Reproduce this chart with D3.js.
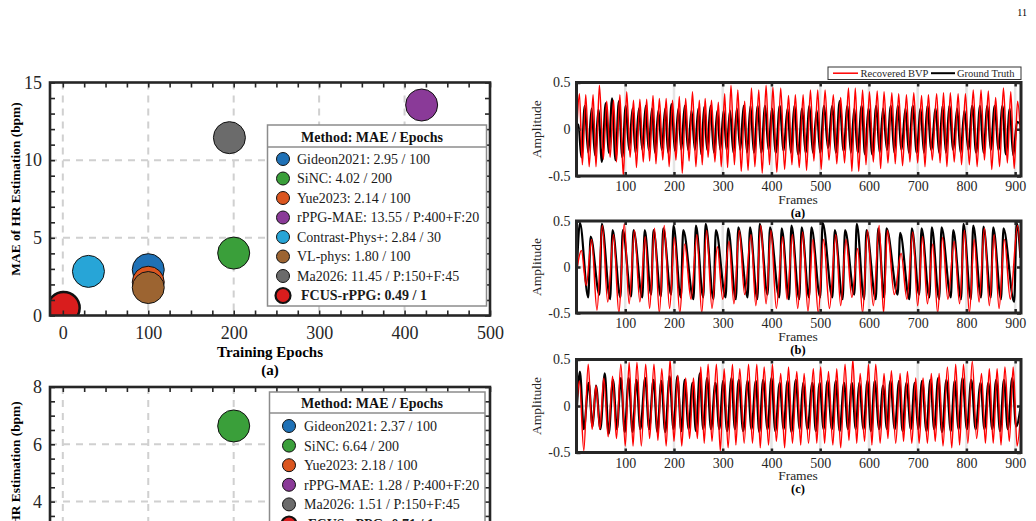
<!DOCTYPE html>
<html>
<head>
<meta charset="utf-8">
<script src="https://cdn.jsdelivr.net/npm/d3@7"></script>
<style>
  body { margin: 0; background: #fff; }
  svg { display: block; font-family: "Liberation Serif", "Times New Roman", serif; }
</style>
</head>
<body>
<svg width="1036" height="521"></svg>
<script>
// ---- scatter (a): MAE vs training epochs ----
const methodsA = ['Gideon2021', 'SiNC', 'Yue2023', 'rPPG-MAE', 'Contrast-Phys+', 'VL-phys', 'Ma2026', 'FCUS-rPPG'];
const maeA = [2.95, 4.02, 2.14, 13.55, 2.84, 1.80, 11.45, 0.49];
const epochsA = [100, 200, 100, 420, 30, 100, 195, 1];
const epochTextA = ['100', '200', '100', 'P:400+F:20', '30', '100', 'P:150+F:45', '1'];
const colorsA = ['#1f71b6', '#3a9f3a', '#db5620', '#8a3a98', '#27a5d7', '#9c6431', '#6b6b6b', '#d91d1d'];

// ---- scatter (b) ----
const methodsB = ['Gideon2021', 'SiNC', 'Yue2023', 'rPPG-MAE', 'Ma2026', 'FCUS-rPPG'];
const maeB = [2.37, 6.64, 2.18, 1.28, 1.51, 0.71];
const epochsB = [100, 200, 100, 420, 195, 1];
const epochTextB = ['100', '200', '100', 'P:400+F:20', 'P:150+F:45', '1'];
const colorsB = ['#1f71b6', '#3a9f3a', '#db5620', '#8a3a98', '#6b6b6b', '#d91d1d'];

// ---- BVP waveforms: extrema, [frame, amplitude] ----
const recPeaksA = [[6,.38],[19,.37],[34,.37],[47,.47],[62,.30],[76,.31],[89,.37],[103,.40],[117,.31],[130,.32],[144,.32],[157,.36],[170,.33],[184,.33],[197,.31],[211,.35],[224,.33],[238,.40],[252,.31],[264,.33],[277,.31],[291,.29],[304,.38],[317,.47],[331,.42],[345,.30],[359,.44],[374,.42],[389,.47],[403,.45],[419,.44],[435,.36],[449,.37],[465,.37],[480,.42],[495,.42],[510,.42],[527,.37],[542,.34],[558,.44],[572,.44],[587,.42],[601,.40],[617,.41],[631,.40],[647,.39],[661,.38],[677,.37],[692,.39],[708,.36],[722,.37],[739,.38],[753,.39],[767,.39],[783,.38],[798,.38],[814,.42],[830,.42],[845,.41],[860,.34],[876,.44],[891,.40],[905,.30]];
const recTroughsA = [[1,.05],[12,-.38],[26,-.40],[40,-.40],[55,-.32],[69,-.30],[82,-.35],[96,-.50],[110,-.30],[123,-.41],[137,-.35],[150,-.34],[163,-.37],[177,-.33],[190,-.40],[204,-.33],[217,-.47],[231,-.34],[245,-.40],[258,-.38],[270,-.30],[284,-.35],[297,-.40],[310,-.41],[324,-.38],[338,-.45],[352,-.44],[366,-.40],[381,-.47],[396,-.38],[411,-.46],[427,-.43],[442,-.38],[457,-.41],[472,-.44],[487,-.34],[502,-.43],[518,-.33],[534,-.37],[550,-.36],[565,-.45],[579,-.45],[594,-.38],[609,-.35],[624,-.42],[639,-.36],[654,-.37],[669,-.39],[684,-.35],[700,-.36],[715,-.40],[730,-.33],[746,-.36],[760,-.40],[775,-.35],[790,-.38],[806,-.38],[822,-.40],[837,-.33],[852,-.43],[868,-.40],[884,-.36],[898,-.42],[911,-.05]];
const gtPeaksA = [[4,.05],[17,.25],[31,.22],[45,.21],[60,.28],[73,.33],[87,.30],[101,.25],[115,.22],[128,.22],[142,.25],[155,.22],[168,.20],[182,.22],[195,.27],[209,.22],[222,.25],[236,.20],[250,.22],[262,.24],[275,.25],[289,.20],[302,.20],[315,.20],[329,.22],[343,.25],[357,.25],[372,.25],[387,.25],[401,.22],[417,.25],[433,.22],[447,.25],[463,.22],[478,.25],[493,.20],[508,.25],[525,.25],[540,.30],[556,.25],[570,.22],[585,.25],[599,.22],[615,.25],[629,.22],[645,.25],[659,.25],[675,.22],[690,.25],[706,.22],[720,.25],[737,.22],[751,.25],[765,.25],[781,.22],[796,.20],[812,.25],[828,.25],[843,.25],[858,.25],[874,.25],[889,.22],[904,.08]];
const gtTroughsA = [[1,0],[10,-.30],[24,-.25],[38,-.28],[52,-.35],[66,-.25],[80,-.33],[94,-.30],[108,-.22],[121,-.25],[135,-.22],[148,-.22],[161,-.25],[175,-.22],[188,-.25],[202,-.23],[215,-.22],[229,-.22],[243,-.22],[256,-.27],[268,-.22],[282,-.25],[295,-.22],[308,-.22],[322,-.25],[336,-.22],[350,-.25],[364,-.25],[379,-.25],[394,-.22],[409,-.25],[425,-.23],[440,-.25],[455,-.27],[470,-.25],[485,-.25],[500,-.25],[516,-.20],[532,-.25],[548,-.23],[563,-.25],[577,-.25],[592,-.27],[607,-.27],[622,-.25],[637,-.22],[652,-.25],[667,-.22],[682,-.25],[698,-.25],[713,-.25],[728,-.22],[744,-.25],[758,-.25],[773,-.22],[788,-.25],[804,-.22],[820,-.25],[835,-.25],[850,-.22],[866,-.22],[881,-.27],[896,-.28],[911,.05]];

const recPeaksB = [[10,.18],[31,.30],[53,.45],[76,.35],[98,.47],[119,.40],[141,.33],[160,.42],[180,.45],[201,.32],[222,.25],[247,.35],[267,.40],[289,.22],[313,.28],[334,.40],[358,.35],[378,.45],[399,.40],[423,.33],[443,.35],[464,.38],[485,.30],[507,.30],[532,.35],[553,.30],[577,.20],[597,.40],[621,.45],[638,.40],[666,.15],[690,.38],[710,.33],[731,.25],[751,.32],[775,.28],[796,.40],[816,.30],[837,.42],[857,.35],[878,.30],[905,.45]];
const recTroughsB = [[1,-.02],[20,-.20],[42,-.47],[64,-.38],[87,-.50],[108,-.40],[130,-.38],[150,-.45],[170,-.50],[191,-.45],[212,-.50],[235,-.35],[257,-.50],[278,-.45],[300,-.35],[323,-.40],[345,-.30],[368,-.42],[389,-.40],[410,-.45],[432,-.35],[454,-.45],[475,-.48],[496,-.50],[519,-.45],[542,-.42],[565,-.33],[587,-.50],[609,-.42],[630,-.50],[652,-.30],[678,-.35],[700,-.42],[720,-.40],[741,-.50],[762,-.35],[786,-.40],[806,-.50],[826,-.38],[847,-.42],[867,-.45],[890,-.35],[912,.05]];
const gtPeaksB = [[7,.48],[29,.33],[52,.47],[74,.40],[95,.40],[117,.40],[140,.40],[158,.40],[178,.42],[199,.45],[219,.40],[245,.45],[265,.47],[286,.40],[311,.42],[332,.43],[356,.43],[376,.47],[397,.43],[421,.42],[441,.45],[462,.43],[482,.43],[505,.48],[530,.40],[551,.40],[575,.47],[595,.40],[619,.42],[636,.42],[664,.37],[688,.42],[708,.42],[729,.43],[749,.43],[773,.40],[794,.47],[814,.45],[835,.44],[855,.43],[876,.42],[903,.48]];
const gtTroughsB = [[1,0],[24,-.33],[47,-.30],[69,-.35],[90,-.33],[112,-.32],[135,-.33],[153,-.30],[173,-.32],[194,-.30],[214,-.33],[240,-.35],[260,-.33],[281,-.35],[306,-.33],[327,-.35],[351,-.33],[371,-.35],[392,-.30],[416,-.33],[436,-.35],[457,-.35],[477,-.33],[500,-.33],[525,-.33],[546,-.35],[570,-.30],[590,-.35],[614,-.35],[631,-.33],[659,-.30],[683,-.35],[703,-.30],[724,-.33],[744,-.35],[768,-.33],[789,-.35],[809,-.35],[830,-.33],[850,-.33],[871,-.35],[898,-.38],[911,.10]];

const recPeaksC = [[6,.27],[24,.45],[40,.22],[56,.30],[74,.32],[91,.45],[108,.47],[124,.47],[142,.45],[159,.45],[175,.40],[192,.50],[208,.33],[224,.30],[240,.30],[255,.42],[270,.45],[287,.45],[303,.40],[320,.45],[335,.40],[353,.45],[370,.45],[385,.42],[402,.45],[419,.35],[435,.42],[452,.37],[467,.35],[486,.40],[501,.42],[517,.37],[534,.40],[551,.45],[567,.50],[582,.35],[599,.45],[614,.45],[631,.35],[646,.38],[664,.35],[679,.37],[696,.30],[711,.30],[728,.35],[744,.35],[761,.42],[778,.45],[794,.45],[812,.48],[831,.35],[847,.40],[863,.40],[879,.42],[896,.42]];
const recTroughsC = [[1,.05],[15,-.48],[32,-.25],[48,-.25],[65,-.33],[82,-.35],[100,-.43],[116,-.43],[133,-.43],[150,-.35],[167,-.37],[184,-.43],[200,-.38],[216,-.43],[232,-.35],[248,-.35],[262,-.40],[278,-.38],[295,-.48],[311,-.45],[327,-.42],[344,-.40],[361,-.40],[377,-.45],[394,-.42],[410,-.38],[427,-.45],[443,-.40],[460,-.42],[476,-.40],[493,-.40],[509,-.40],[526,-.42],[542,-.45],[559,-.37],[575,-.40],[591,-.38],[606,-.42],[623,-.40],[639,-.35],[655,-.40],[671,-.38],[688,-.40],[703,-.40],[720,-.40],[736,-.38],[752,-.43],[770,-.45],[786,-.42],[803,-.40],[821,-.35],[839,-.40],[855,-.40],[871,-.42],[888,-.38],[904,-.43],[912,-.02]];
const gtPeaksC = [[7,.37],[25,.25],[40,.22],[58,.35],[75,.28],[91,.30],[107,.30],[123,.28],[141,.30],[158,.28],[174,.27],[191,.32],[207,.32],[222,.28],[238,.25],[253,.35],[268,.30],[285,.25],[301,.27],[318,.30],[333,.28],[351,.27],[368,.27],[383,.28],[400,.30],[417,.25],[433,.27],[450,.28],[465,.25],[484,.25],[499,.25],[515,.27],[532,.27],[549,.25],[565,.25],[580,.25],[597,.27],[612,.27],[629,.22],[644,.27],[662,.27],[677,.25],[694,.25],[709,.27],[726,.28],[742,.30],[759,.28],[776,.27],[792,.30],[810,.28],[829,.25],[845,.25],[861,.28],[877,.28],[894,.30]];
const gtTroughsC = [[1,0],[15,-.25],[33,-.22],[49,-.25],[66,-.30],[83,-.25],[99,-.28],[115,-.28],[131,-.25],[149,-.25],[166,-.28],[182,-.28],[199,-.25],[215,-.27],[230,-.25],[245,-.27],[260,-.25],[276,-.25],[293,-.25],[309,-.27],[325,-.25],[342,-.27],[359,-.25],[375,-.28],[392,-.25],[408,-.27],[425,-.25],[441,-.28],[458,-.25],[474,-.25],[491,-.27],[507,-.25],[524,-.25],[540,-.27],[557,-.25],[573,-.25],[589,-.25],[604,-.27],[621,-.25],[637,-.25],[653,-.25],[669,-.27],[686,-.25],[701,-.25],[718,-.27],[734,-.25],[750,-.28],[768,-.27],[784,-.25],[801,-.25],[819,-.25],[837,-.25],[853,-.25],[869,-.27],[885,-.25],[902,-.22],[911,-.02]];

const frameTicks = [100, 200, 300, 400, 500, 600, 700, 800, 900];
const ampTicks = [-0.5, 0, 0.5];

const svg = d3.select('svg');
const INK = '#262626';
const H = 521;

function styleAxis(sel, size) {
  sel.select('.domain').remove();
  sel.selectAll('.tick line').attr('stroke', INK);
  sel.selectAll('.tick text')
    .attr('font-family', '"Liberation Serif", "Times New Roman", serif')
    .attr('font-size', size).attr('fill', INK);
}

// ---------------- scatter plots ----------------
function scatter(o) {
  const g = svg.append('g');
  const x = d3.scaleLinear().domain([-15, 500]).range([50, 490]);
  const y = d3.scaleLinear().domain(o.yDomain).range([o.bottom, o.top]);

  svg.append('clipPath').attr('id', 'clip-' + o.id).append('rect')
    .attr('x', x.range()[0]).attr('y', o.top)
    .attr('width', x.range()[1] - x.range()[0]).attr('height', o.bottom - o.top);

  // dashed grid
  g.append('g').selectAll('line').data([0, 100, 200, 300, 400]).join('line')
    .attr('x1', d => x(d)).attr('x2', d => x(d)).attr('y1', o.top).attr('y2', o.bottom)
    .attr('stroke', '#d0d0d0').attr('stroke-width', 2).attr('stroke-dasharray', '7,6');
  g.append('g').selectAll('line').data(o.gridY).join('line')
    .attr('x1', 50).attr('x2', 490).attr('y1', d => y(d)).attr('y2', d => y(d))
    .attr('stroke', '#d0d0d0').attr('stroke-width', 2).attr('stroke-dasharray', '7,6');

  // bubbles
  const pts = o.methods.map((m, i) => ({ m, mae: o.mae[i], ep: o.epochs[i], c: o.colors[i], last: i === o.methods.length - 1 }));
  g.append('g').attr('clip-path', `url(#clip-${o.id})`)
    .selectAll('circle').data(pts).join('circle')
    .attr('cx', d => x(d.ep)).attr('cy', d => y(d.mae)).attr('r', 16)
    .attr('fill', d => d.c).attr('stroke', '#111').attr('stroke-width', d => d.last ? 2.5 : 1);

  // ticks on all four sides, pointing inward (labels only where they fall on the page)
  const xt = d3.range(0, 501, 25);
  const showX = o.bottom < H;
  g.append('g').attr('transform', `translate(0,${o.bottom})`)
    .call(d3.axisBottom(x).tickValues(xt).tickSize(-5).tickPadding(11)
      .tickFormat(d => (d % 100 || !showX) ? '' : d))
    .call(s => styleAxis(s, 18));
  g.append('g').attr('transform', `translate(0,${o.top})`)
    .call(d3.axisTop(x).tickValues(xt).tickSize(-5).tickFormat(''))
    .call(s => styleAxis(s, 18));
  g.append('g').attr('transform', 'translate(50,0)')
    .call(d3.axisLeft(y).tickValues(o.yTicks).tickSize(-5).tickPadding(8)
      .tickFormat(d => (o.yLabels.includes(d) && y(d) < H) ? d : ''))
    .call(s => styleAxis(s, 18));
  g.append('g').attr('transform', 'translate(490,0)')
    .call(d3.axisRight(y).tickValues(o.yTicks).tickSize(-5).tickFormat(''))
    .call(s => styleAxis(s, 18));
  g.selectAll('.tick line').attr('stroke-width', 1.6);

  g.append('rect').attr('x', 50).attr('y', o.top).attr('width', 440).attr('height', o.bottom - o.top)
    .attr('fill', 'none').attr('stroke', INK).attr('stroke-width', 2.6);

  // axis titles
  g.append('text').attr('transform', `translate(20,${o.yTitleY}) rotate(-90)`)
    .attr('text-anchor', 'middle').attr('font-weight', 'bold').attr('font-size', 13.4)
    .text('MAE of HR Estimation (bpm)');
  if (o.xTitleY) {
    g.append('text').attr('x', 270).attr('y', o.xTitleY).attr('text-anchor', 'middle')
      .attr('font-weight', 'bold').attr('font-size', 15).text('Training Epochs');
    g.append('text').attr('x', 270).attr('y', o.xTitleY + 18).attr('text-anchor', 'middle')
      .attr('font-weight', 'bold').attr('font-size', 15).text(o.tag);
  }

  // legend
  const L = o.legend;
  const lg = g.append('g');
  lg.append('rect').attr('x', L.x0).attr('y', L.top).attr('width', L.x1 - L.x0).attr('height', L.bottom - L.top)
    .attr('fill', '#fff').attr('stroke', '#8c8c8c').attr('stroke-width', 1.5);
  lg.append('line').attr('x1', L.x0).attr('x2', L.x1).attr('y1', L.sep).attr('y2', L.sep)
    .attr('stroke', '#8c8c8c').attr('stroke-width', 1.5);
  lg.append('text').attr('x', L.hx).attr('y', L.hy).attr('text-anchor', 'middle')
    .attr('font-weight', 'bold').attr('font-size', 14).attr('fill', '#111').text('Method: MAE / Epochs');
  const items = lg.selectAll('g.item').data(pts).join('g').attr('class', 'item')
    .attr('transform', (d, i) => `translate(0,${L.y0 + i * L.step})`);
  items.append('circle').attr('cx', L.mx).attr('r', d => d.last ? 7.5 : 6.5)
    .attr('fill', d => d.c).attr('stroke', '#111').attr('stroke-width', d => d.last ? 2.2 : 1);
  items.append('text').attr('x', d => d.last ? L.tx + 4 : L.tx).attr('dy', '0.35em')
    .attr('font-size', 14).attr('fill', '#1a1a1a').attr('font-weight', d => d.last ? 'bold' : 'normal')
    .text((d, i) => `${d.m}: ${d.mae.toFixed(2)} / ${o.epochText[i]}`);
}

scatter({
  id: 'a', top: 82.5, bottom: 315.5, yDomain: [0, 15],
  yTicks: d3.range(0, 16, 1), yLabels: [0, 5, 10, 15], gridY: [5, 10],
  methods: methodsA, mae: maeA, epochs: epochsA, epochText: epochTextA, colors: colorsA,
  yTitleY: 189, xTitleY: 357, tag: '(a)',
  legend: { x0: 267.5, x1: 486.5, top: 125, sep: 147, bottom: 306, hx: 372, hy: 141.5,
            y0: 159, step: 19.5, mx: 283, tx: 297 }
});
scatter({
  id: 'b', top: 387, bottom: 616.2, yDomain: [0, 8],
  yTicks: d3.range(0, 8.01, 0.5), yLabels: [0, 2, 4, 6, 8], gridY: [2, 4, 6],
  methods: methodsB, mae: maeB, epochs: epochsB, epochText: epochTextB, colors: colorsB,
  yTitleY: 488,
  legend: { x0: 269.5, x1: 485, top: 392, sep: 413, bottom: 560, hx: 372, hy: 407.5,
            y0: 426, step: 19.6, mx: 289, tx: 304 }
});

// ---------------- BVP waveform panels ----------------
const fx = d3.scaleLinear().domain([0, 912]).range([576.5, 1021]);
const merge = (a, b) => a.concat(b).sort((p, q) => p[0] - q[0]);
const panels = [
  { id: 'wa', top: 82.5, bottom: 176, tag: '(a)', rec: merge(recPeaksA, recTroughsA), gt: merge(gtPeaksA, gtTroughsA) },
  { id: 'wb', top: 221, bottom: 313, tag: '(b)', rec: merge(recPeaksB, recTroughsB), gt: merge(gtPeaksB, gtTroughsB) },
  { id: 'wc', top: 359.5, bottom: 452.5, tag: '(c)', rec: merge(recPeaksC, recTroughsC), gt: merge(gtPeaksC, gtTroughsC) }
];

panels.forEach(p => {
  const g = svg.append('g');
  const y = d3.scaleLinear().domain([-0.5, 0.5]).range([p.bottom, p.top]);
  const [x0, x1] = fx.range();

  svg.append('clipPath').attr('id', 'clip-' + p.id).append('rect')
    .attr('x', x0).attr('y', p.top).attr('width', x1 - x0).attr('height', p.bottom - p.top);

  g.append('g').selectAll('line').data(frameTicks).join('line')
    .attr('x1', d => fx(d)).attr('x2', d => fx(d)).attr('y1', p.top).attr('y2', p.bottom)
    .attr('stroke', '#e4e4e4').attr('stroke-width', 2.5);
  g.append('line').attr('x1', x0).attr('x2', x1).attr('y1', y(0)).attr('y2', y(0))
    .attr('stroke', '#e4e4e4').attr('stroke-width', 2.5);

  const line = d3.line().x(d => fx(d[0])).y(d => y(d[1])).curve(d3.curveMonotoneX);
  const lines = g.append('g').attr('clip-path', `url(#clip-${p.id})`);
  lines.append('path').attr('d', line(p.gt)).attr('fill', 'none').attr('stroke', '#000').attr('stroke-width', 2.2);
  lines.append('path').attr('d', line(p.rec)).attr('fill', 'none').attr('stroke', '#ff0000').attr('stroke-width', 1.5);

  g.append('g').attr('transform', `translate(0,${p.bottom})`)
    .call(d3.axisBottom(fx).tickValues(frameTicks).tickSize(-4).tickPadding(5.5))
    .call(s => styleAxis(s, 14));
  g.append('g').attr('transform', `translate(0,${p.top})`)
    .call(d3.axisTop(fx).tickValues(frameTicks).tickSize(-4).tickFormat(''))
    .call(s => styleAxis(s, 14));
  g.append('g').attr('transform', `translate(${x0},0)`)
    .call(d3.axisLeft(y).tickValues(ampTicks).tickSize(-4).tickPadding(6).tickFormat(d => String(d)))
    .call(s => styleAxis(s, 14));
  g.append('g').attr('transform', `translate(${x1},0)`)
    .call(d3.axisRight(y).tickValues(ampTicks).tickSize(-4).tickFormat(''))
    .call(s => styleAxis(s, 14));
  g.selectAll('.tick line').attr('stroke-width', 2.5);

  g.append('rect').attr('x', x0).attr('y', p.top).attr('width', x1 - x0).attr('height', p.bottom - p.top)
    .attr('fill', 'none').attr('stroke', INK).attr('stroke-width', 3);

  g.append('text').attr('transform', `translate(541,${(p.top + p.bottom) / 2}) rotate(-90)`)
    .attr('text-anchor', 'middle').attr('font-size', 13.5).attr('fill', INK).text('Amplitude');
  g.append('text').attr('x', 798).attr('y', p.bottom + 27.5).attr('text-anchor', 'middle')
    .attr('font-size', 13.5).attr('fill', INK).text('Frames');
  g.append('text').attr('x', 798).attr('y', p.bottom + 40.5).attr('text-anchor', 'middle')
    .attr('font-size', 12.5).attr('font-weight', 'bold').text(p.tag);
});

// waveform legend
const wl = svg.append('g');
wl.append('rect').attr('x', 828).attr('y', 67).attr('width', 193).attr('height', 12.5)
  .attr('fill', '#fff').attr('stroke', '#333').attr('stroke-width', 1);
wl.append('line').attr('x1', 833).attr('x2', 858).attr('y1', 73.2).attr('y2', 73.2).attr('stroke', '#ff0000').attr('stroke-width', 1.5);
wl.append('text').attr('x', 860.5).attr('y', 76.8).attr('font-size', 10.5).attr('fill', INK).text('Recovered BVP');
wl.append('line').attr('x1', 931).attr('x2', 955).attr('y1', 73.2).attr('y2', 73.2).attr('stroke', '#000').attr('stroke-width', 2);
wl.append('text').attr('x', 957).attr('y', 76.8).attr('font-size', 10.5).attr('fill', INK).text('Ground Truth');

// page number
svg.append('text').attr('x', 1027).attr('y', 16).attr('text-anchor', 'end').attr('font-size', 10).text('11');
</script>
</body>
</html>
